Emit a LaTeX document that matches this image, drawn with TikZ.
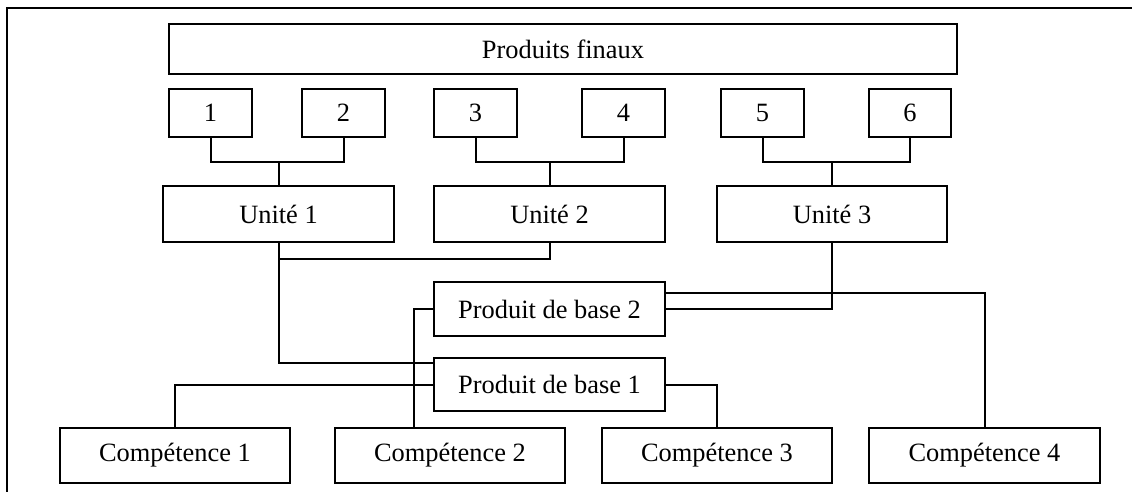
\documentclass[tikz,border=0pt]{standalone}
\usepackage{fontspec}
\setmainfont{Liberation Serif}
\begin{document}
\begin{tikzpicture}[x=0.75pt,y=-0.75pt,
  line width=1.5pt,
  box/.style n args={2}{draw, rectangle, inner sep=0pt,
    minimum width={#1*0.75pt}, minimum height={#2*0.75pt},
    font=\fontsize{19.8}{23}\selectfont}]
\useasboundingbox (0,0) rectangle (1132,492);

% outer frame (top and left edges)
\coordinate (fbl) at (7,493);
\coordinate (ftl) at (7,8);
\coordinate (ftr) at (1133,8);
\draw[line width=1.6pt] (fbl) -- (ftl) -- (ftr);

% final products
\node[box={788}{50}] (pf) at (563,49) {Produits finaux};
\node[box={83}{48}] (b1) at (210.5,113) {1};
\node[box={83}{48}] (b2) at (343.5,113) {2};
\node[box={83}{48}] (b3) at (475.5,113) {3};
\node[box={83}{48}] (b4) at (623.5,113) {4};
\node[box={83}{48}] (b5) at (762.5,113) {5};
\node[box={82}{48}] (b6) at (910,113) {6};

% units
\node[box={231}{56}] (u1) at (278.5,214) {Unité 1};
\node[box={231}{56}] (u2) at (549.5,214) {Unité 2};
\node[box={230}{56}] (u3) at (832,214) {Unité 3};

% core products
\node[box={231}{54}] (pb2) at (549.5,309) {Produit de base 2};
\node[box={231}{53}] (pb1) at (549.5,384.5) {Produit de base 1};

% competences
\node[box={230}{55}] (c1) at (175,455.5) {Compétence 1};
\node[box={230}{55}] (c2) at (450,455.5) {Compétence 2};
\node[box={230}{55}] (c3) at (717,455.5) {Compétence 3};
\node[box={231}{55}] (c4) at (984.5,455.5) {Compétence 4};

% junction points
\coordinate (j12) at (278.5,162);
\coordinate (j34) at (549.5,162);
\coordinate (j56) at (832,162);
\coordinate (ju) at (278.5,259);
\coordinate (p1in) at (434,363);

% products to units
\draw (b1.south) |- (j12) -| (b2.south);
\draw (j12) -- (u1.north);
\draw (b3.south) |- (j34) -| (b4.south);
\draw (j34) -- (u2.north);
\draw (b5.south) |- (j56) -| (b6.south);
\draw (j56) -- (u3.north);

% units to core products
\draw (u1.south) -- (ju) -| (u2.south);
\draw (ju) |- (p1in);
\draw (pb2.east) -| (u3.south);

% core products to competences
\draw (c1.north) |- (pb1.west);
\draw (pb1.east) -| (c3.north);
\draw (pb2.west) -| ([xshift=60pt]c2.north west);
\draw ([yshift=12pt]pb2.east) -| (c4.north);
\end{tikzpicture}
\end{document}
